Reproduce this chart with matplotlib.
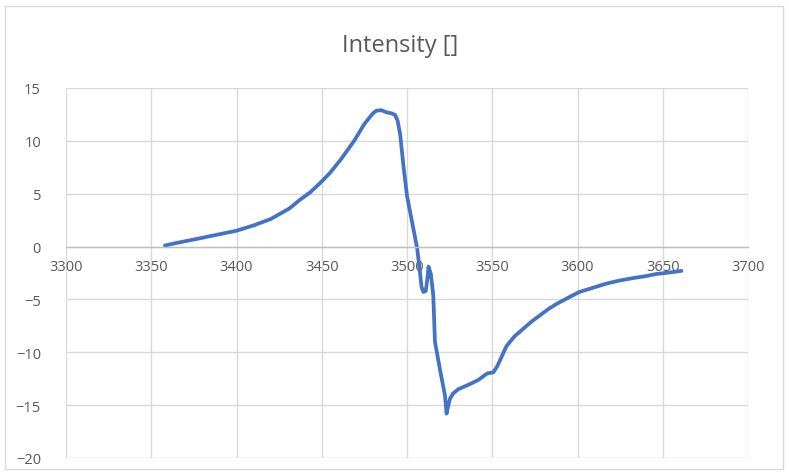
import matplotlib.pyplot as plt
from matplotlib.patches import Rectangle

# -----------------------------
# Data
# -----------------------------
field = [3358, 3365, 3376, 3388, 3400, 3410, 3420, 3431, 3437, 3443, 3449,
         3455, 3461, 3465, 3469, 3472, 3475, 3478, 3480, 3482, 3485, 3488,
         3491, 3493, 3494.5, 3496, 3498, 3500, 3503, 3506,
         3507.6, 3508.5, 3509.6, 3511, 3512, 3512.6, 3514, 3515.4, 3516.4,
         3519.3, 3522.3, 3523.2, 3524, 3525.2, 3527, 3530, 3537, 3542, 3547,
         3550.6, 3553, 3558.4, 3563, 3568, 3573, 3578, 3583, 3588, 3595, 3601,
         3609, 3617, 3625, 3633, 3640, 3646, 3654, 3661]
intensity = [0.1, 0.35, 0.7, 1.1, 1.5, 2.0, 2.6, 3.6, 4.4, 5.1, 6.0,
             7.0, 8.2, 9.1, 10.0, 10.8, 11.6, 12.2, 12.6, 12.85, 12.9, 12.7,
             12.6, 12.45, 11.9, 10.6, 7.5, 4.8, 2.3, -0.2,
             -2.4, -3.8, -4.3, -4.2, -3.0, -1.9, -2.6, -4.6, -9.0,
             -11.6, -14.1, -15.8, -15.2, -14.4, -13.9, -13.5, -13.0, -12.6, -12.0,
             -11.9, -11.3, -9.4, -8.5, -7.8, -7.1, -6.5, -5.9, -5.4, -4.8, -4.3,
             -3.9, -3.5, -3.2, -2.97, -2.8, -2.6, -2.45, -2.3]

x_ticks = [3300, 3350, 3400, 3450, 3500, 3550, 3600, 3650, 3700]
y_ticks = [-20, -15, -10, -5, 0, 5, 10, 15]

# -----------------------------
# Plot
# -----------------------------
plt.rcParams['font.family'] = ['Open Sans', 'DejaVu Sans']
text_color = '#595959'
grid_color = '#D9D9D9'

fig = plt.figure(figsize=(7.89, 4.77), dpi=100)
ax = fig.add_axes([66 / 789, 18 / 477, (748 - 66) / 789, (459 - 89) / 477])

ax.plot(field, intensity, color='#4472C4', linewidth=2.7,
        solid_capstyle='round', solid_joinstyle='round')

ax.set_xlim(3300, 3700)
ax.set_ylim(-20, 15)
ax.set_xticks(x_ticks)
ax.set_yticks(y_ticks)
ax.grid(True, color=grid_color, linewidth=1)
ax.set_axisbelow(True)

for side in ['top', 'right', 'left']:
    ax.spines[side].set_visible(False)
ax.spines['bottom'].set_position(('data', 0))
ax.spines['bottom'].set_color('#BFBFBF')
ax.spines['bottom'].set_linewidth(1)

ax.tick_params(axis='both', length=0, labelsize=10.5, colors=text_color)
ax.tick_params(axis='x', pad=9)
ax.tick_params(axis='y', pad=18)

fig.text(0.507, 0.903, 'Intensity []', ha='center', va='center',
         fontsize=17, color=text_color)

# outer chart border
fig.patches.append(Rectangle((5 / 789, 7 / 477), 778 / 789, 463 / 477,
                             transform=fig.transFigure, fill=False,
                             edgecolor='#D9D9D9', linewidth=1))

fig.savefig('out.png', dpi=100)
